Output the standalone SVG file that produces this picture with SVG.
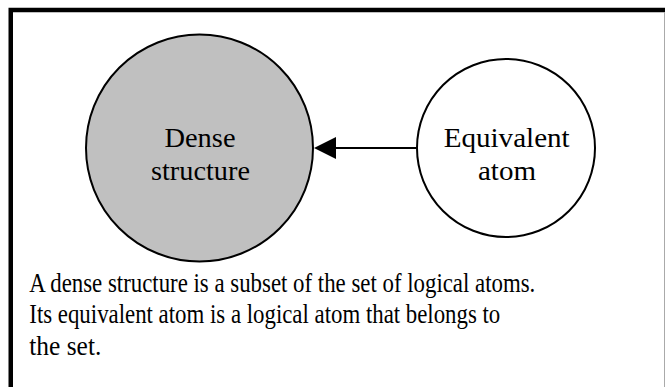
<svg xmlns="http://www.w3.org/2000/svg" width="666" height="387" viewBox="0 0 666 387">
<style>
.t{font-family:"Liberation Serif","Times New Roman","DejaVu Serif",serif;fill:#000}
.n{font-size:28px;text-anchor:middle}
.b{font-size:27px}
.c{stroke:#000;stroke-width:2}
</style>
<rect width="666" height="387" fill="#fff"/>
<g id="frame">
<path d="M10.75,387 V10 H665" fill="none" stroke="#000" stroke-width="4.5"/>
<line x1="664.5" y1="12" x2="664.5" y2="387" stroke="#aaa" stroke-width="1"/>
</g>
<g id="connectors">
<line x1="416" y1="148" x2="336" y2="148" class="c"/>
<path d="M336,137 L314,148 L336,159 Z" fill="#000"/>
</g>
<g id="dense">
<circle cx="199.5" cy="148" r="113.5" fill="#c0c0c0" class="c"/>
<text class="t n" x="200" y="147" textLength="71" lengthAdjust="spacingAndGlyphs">Dense</text>
<text class="t n" x="200.5" y="180" textLength="99" lengthAdjust="spacingAndGlyphs">structure</text>
</g>
<g id="equiv">
<circle cx="506" cy="148" r="89" fill="#fff" class="c"/>
<text class="t n" x="506.7" y="147" textLength="126" lengthAdjust="spacingAndGlyphs">Equivalent</text>
<text class="t n" x="507" y="180" textLength="58" lengthAdjust="spacingAndGlyphs">atom</text>
</g>
<g id="caption">
<text class="t b" x="29.3" y="291.5" textLength="506" lengthAdjust="spacingAndGlyphs">A dense structure is a subset of the set of logical atoms.</text>
<text class="t b" x="29.3" y="323" textLength="471" lengthAdjust="spacingAndGlyphs">Its equivalent atom is a logical atom that belongs to</text>
<text class="t b" x="29.3" y="355" textLength="72" lengthAdjust="spacingAndGlyphs">the set.</text>
</g>
</svg>
